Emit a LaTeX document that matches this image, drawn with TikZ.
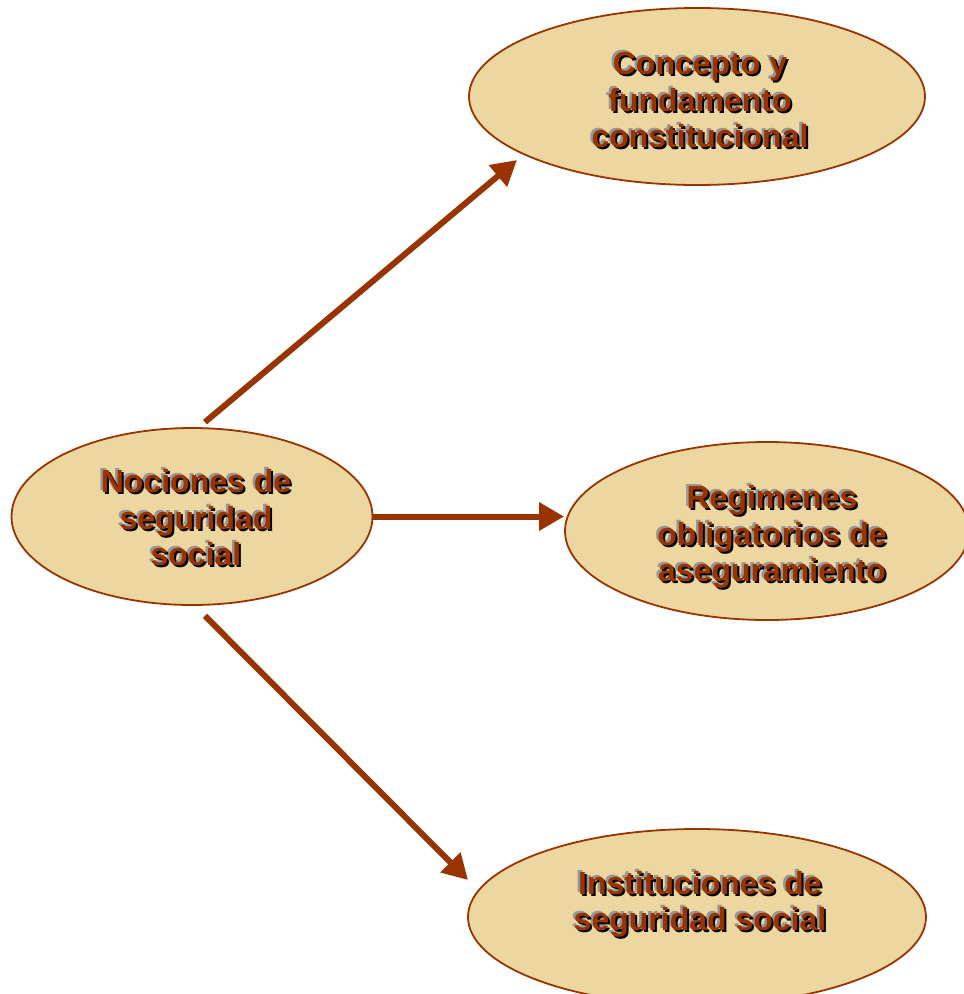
\documentclass[tikz,border=0pt]{standalone}
\usepackage{fontspec}
\setmainfont{Liberation Sans}
\usepackage{xcolor}
\usetikzlibrary{shapes.geometric,arrows.meta,positioning,calc}

\definecolor{papiro}{RGB}{236,215,160}
\definecolor{marron}{RGB}{153,51,0}
\definecolor{sombra}{RGB}{150,150,150}

% text with grey and dark shadow
\newcommand{\relieve}[1]{%
  \leavevmode
  \rlap{\kern-2.5pt\raisebox{2pt}{\color{sombra}\begin{tabular}{@{}c@{}}#1\end{tabular}}}%
  \rlap{\kern2pt\raisebox{-2pt}{\color{black}\begin{tabular}{@{}c@{}}#1\end{tabular}}}%
  {\color{marron}\begin{tabular}{@{}c@{}}#1\end{tabular}}}

\begin{document}
\begin{tikzpicture}[x=1pt, y=-1pt, >={Triangle[length=25pt,width=27pt]}]
    \tikzstyle{globo} = [draw=marron, line width=1.8pt, fill=papiro, ellipse, inner sep=0pt]
    \tikzstyle{texto} = [font=\fontsize{32}{36.5}\selectfont\bfseries, inner sep=0pt]
    \tikzstyle{flecha} = [->, color=marron, line width=6pt]

    \useasboundingbox (0,0) rectangle (964,994);

    \node [globo, minimum width=361pt, minimum height=177pt] (nociones) at (192,516.5) {};
    \node [globo, minimum width=456pt, minimum height=177pt] (concepto) at (697,96.5) {};
    \node [globo, minimum width=404pt, minimum height=178pt] (regimenes) at (767,531) {};
    \node [globo, minimum width=458pt, minimum height=176pt] (instituciones) at (697,917) {};

    \node [texto] (nociones-txt) at (196,522) {\relieve{Nociones de\\seguridad\\social}};
    \node [texto] (concepto-txt) at (700,104) {\relieve{Concepto y\\fundamento\\constitucional}};
    \node [texto] (regimenes-txt) at (772,538) {\relieve{Regimenes\\obligatorios de\\aseguramiento}};
    \node [texto] (instituciones-txt) at (700,905) {\relieve{Instituciones de\\seguridad social}};

    \draw [flecha] ($(nociones.north)+(13,-5)$) -- ($(concepto.center)+(-180,63.5)$);
    \draw [flecha] (nociones.east) -- (nociones.east -| regimenes.west);
    \draw [flecha] ($(nociones.south)+(13,10)$) -- ($(instituciones.center)+(-229,-37)$);
\end{tikzpicture}
\end{document}
